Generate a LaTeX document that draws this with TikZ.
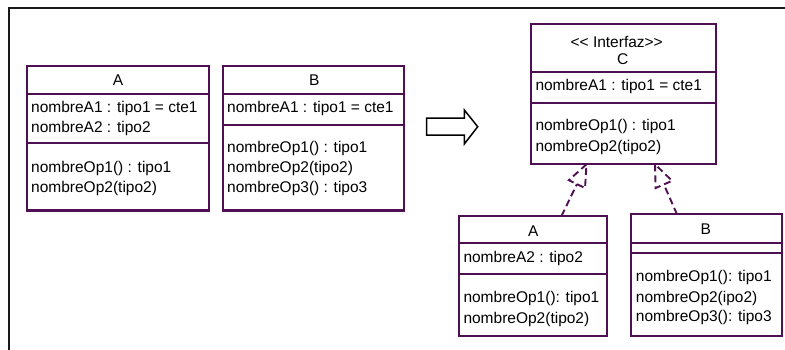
\documentclass[tikz,border=0pt]{standalone}
\usepackage{fontspec}
\newfontfamily\uml{Liberation Sans}
\usetikzlibrary{calc}
\definecolor{umlc}{RGB}{78,16,82}
\tikzset{
  umlbox/.style={draw=umlc, line width=2.2pt, fill=white, inner sep=0pt, outer sep=0pt},
  divider/.style={draw=umlc, line width=2pt},
  txt/.style={anchor=base west, inner sep=0pt, font=\uml\fontsize{15.5}{18}\selectfont},
  ttl/.style={anchor=base, inner sep=0pt, font=\uml\fontsize{15.5}{18}\selectfont},
  real/.style={draw=umlc, line width=1.9pt, dash pattern=on 7pt off 4pt},
  frame/.style={draw=black!90, line width=2pt},
  blockarrow/.style={draw=black, line width=1.5pt, fill=white, line join=miter}
}
\begin{document}
\begin{tikzpicture}[x=1pt,y=-1pt]
\useasboundingbox (0,0) rectangle (785,349);
% frame
\draw[frame] (9,352) -- (9,8) -- (788,8);

% ---------- left A ----------
\node[umlbox, minimum width=182pt, minimum height=144.5pt] (A1) at (118,138.25) {};
\draw[divider] (27,94) -- (209,94);
\draw[divider] (27,142.7) -- (209,142.7);
\node[ttl] (A1t) at (118,85.5) {A};
\node[txt] (A1a1) at (31,112.5) {nombreA1 : tipo1 = cte1};
\node[txt] (A1a2) at (31,132.5) {nombreA2 : tipo2};
\node[txt] (A1o1) at (31,172.5) {nombreOp1() : tipo1};
\node[txt] (A1o2) at (31,192.5) {nombreOp2(tipo2)};

% ---------- left B ----------
\node[umlbox, minimum width=181pt, minimum height=144.5pt] (B1) at (313.2,138.25) {};
\draw[divider] (222.7,94) -- (403.7,94);
\draw[divider] (222.7,124.7) -- (403.7,124.7);
\node[ttl] (B1t) at (314.3,85.5) {B};
\node[txt] (B1a1) at (227,112.5) {nombreA1 : tipo1 = cte1};
\node[txt] (B1o1) at (227,152.5) {nombreOp1() : tipo1};
\node[txt] (B1o2) at (227,172.5) {nombreOp2(tipo2)};
\node[txt] (B1o3) at (227,192.5) {nombreOp3() : tipo3};

% ---------- block arrow ----------
\draw[blockarrow] (426.7,118) -- (464.3,118) -- (464.3,110) -- (477.7,126.7)
  -- (464.3,144) -- (464.3,135) -- (426.7,135) -- cycle;

% ---------- interface C ----------
\node[umlbox, minimum width=184.7pt, minimum height=140pt] (C) at (623.35,94.3) {};
\draw[divider] (531,72) -- (715.7,72);
\draw[divider] (531,103) -- (715.7,103);
\node[ttl] (Cs) at (616.7,47.2) {<< Interfaz>>};
\node[ttl] (Ct) at (622.7,64.8) {C};
\node[txt] (Ca1) at (535.3,90.5) {nombreA1 : tipo1 = cte1};
\node[txt] (Co1) at (535.3,130.5) {nombreOp1() : tipo1};
\node[txt] (Co2) at (535.3,151.2) {nombreOp2(tipo2)};

% ---------- right A ----------
\node[umlbox, minimum width=148.3pt, minimum height=120pt] (A2) at (533.15,276) {};
\draw[divider] (459,242.7) -- (607.3,242.7);
\draw[divider] (459,274.3) -- (607.3,274.3);
\node[ttl] (A2t) at (533.3,236.5) {A};
\node[txt] (A2a2) at (463.3,262.8) {nombreA2 : tipo2};
\node[txt] (A2o1) at (463.3,302.2) {nombreOp1(): tipo1};
\node[txt] (A2o2) at (463.3,323.8) {nombreOp2(tipo2)};

% ---------- right B ----------
\node[umlbox, minimum width=150.7pt, minimum height=121.7pt] (B2) at (706.35,275.15) {};
\draw[divider] (631,242.7) -- (781.7,242.7);
\draw[divider] (631,252.7) -- (781.7,252.7);
\node[ttl] (B2t) at (705.7,234.8) {B};
\node[txt] (B2o1) at (635.7,281.5) {nombreOp1(): tipo1};
\node[txt] (B2o2) at (635.7,302.2) {nombreOp2(ipo2)};
\node[txt] (B2o3) at (635.7,321.5) {nombreOp3(): tipo3};

% ---------- realization connectors ----------
\coordinate (S1) at ($(A2.north west)+(102.5,0)$);
\coordinate (T1) at ($(C.south west)+(55.5,0)$);
\coordinate (S2) at ($(B2.north west)+(46,0)$);
\coordinate (T2) at ($(C.south west)+(124,0)$);
\foreach \s/\t in {S1/T1,S2/T2}{
  \coordinate (bm) at ($(\t)!22pt!(\s)$);
  \draw[real] (\s) -- (bm);
  \draw[real, line join=miter] (\t) -- ($(bm)!9pt!90:(\t)$) -- ($(bm)!9pt!-90:(\t)$) -- cycle;
}
\end{tikzpicture}
\end{document}
